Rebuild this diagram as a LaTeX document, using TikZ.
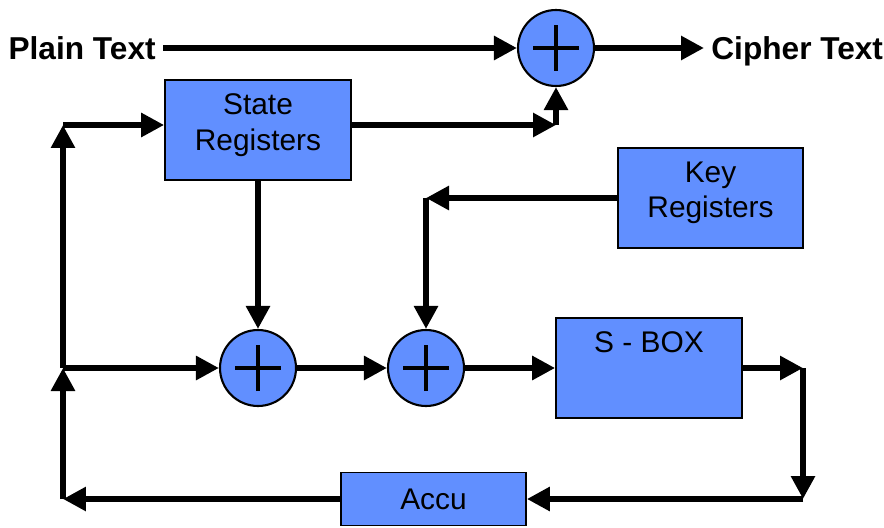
\documentclass[tikz,border=0pt]{standalone}
\usepackage{fontspec}
\setmainfont{Liberation Sans}
\usepackage{tikz}
\usetikzlibrary{arrows.meta}
\definecolor{boxblue}{RGB}{97,143,255}

\begin{document}
\begin{tikzpicture}[x=0.02cm,y=-0.02cm,
		>={Triangle[length=0.46cm,width=0.46cm]},
		block/.style={draw,line width=1pt,fill=boxblue,align=center,
			font=\fontsize{17}{20}\selectfont,inner sep=0pt,
			minimum width=3.72cm,minimum height=2cm},
		twoline/.style={text depth=9pt},
		xorop/.style={circle,draw,line width=1.2pt,fill=boxblue,
			minimum size=1.52cm,inner sep=0pt,
			path picture={
				\draw[line width=2.8pt]
				([xshift=-0.46cm]path picture bounding box.center) --
				([xshift=0.46cm]path picture bounding box.center)
				([yshift=-0.46cm]path picture bounding box.center) --
				([yshift=0.46cm]path picture bounding box.center);
			}},
		lbl/.style={font=\bfseries\fontsize{18}{21}\selectfont,
			inner sep=4pt,text height=13pt,text depth=0pt},
		wire/.style={line width=3.4pt},
		]
		\useasboundingbox (0,0) rectangle (884,527);
		
		% 输入/输出与顶部异或
		\node[lbl,anchor=east] (plain) at (163,48) {Plain Text};
		\node[xorop] (xtop) at (556,48) {};
		\node[lbl,anchor=west] (cipher) at (704,48) {Cipher Text};
		
		% 寄存器与运算单元
		\node[block,twoline] (state) at (258,130) {State\\Registers};
		\node[block,twoline,minimum width=3.7cm] (key) at (710.5,198) {Key\\Registers};
		\node[xorop] (x1) at (258,368) {};
		\node[xorop] (x2) at (426,368) {};
		\node[block,text height=12.3pt,text depth=29.5pt] (sbox) at (649,368) {S - BOX};
		\node[block,minimum width=3.7cm,minimum height=1.06cm] (accu) at (433.5,499) {Accu};
		
		% 折线拐点
		\coordinate (lt) at (63,125);
		\coordinate (lm) at (63,368);
		\coordinate (lb) at (63,499);
		\coordinate (rt) at (803,368);
		\coordinate (rb) at (803,499);
		\coordinate (kc) at (426,198);
		\coordinate (sc) at (556,125);
		
		% 明文 -> 密文
		\draw[wire,->] (plain) -- (xtop);
		\draw[wire,->] (xtop) -- (cipher);
		\draw[wire,->] (state.east |- sc) -- (sc);
		\draw[wire,->] (sc) -- (xtop);
		
		% 状态更新回路
		\draw[wire,->] (state) -- (x1);
		\draw[wire,->] (key) -- (kc);
		\draw[wire,->] (kc) -- (x2);
		\draw[wire,->] (x1) -- (x2);
		\draw[wire,->] (x2) -- (sbox);
		\draw[wire,->] (sbox) -- (rt);
		\draw[wire,->] (rt) -- (rb);
		\draw[wire,->] (rb) -- (accu);
		\draw[wire,->] (accu) -- (lb);
		\draw[wire,->] (lb) -- (lm);
		\draw[wire,->] (lm) -- (x1);
		\draw[wire,->] (lm) -- (lt);
		\draw[wire,->] (lt) -- (state.west |- lt);
\end{tikzpicture}
\end{document}
